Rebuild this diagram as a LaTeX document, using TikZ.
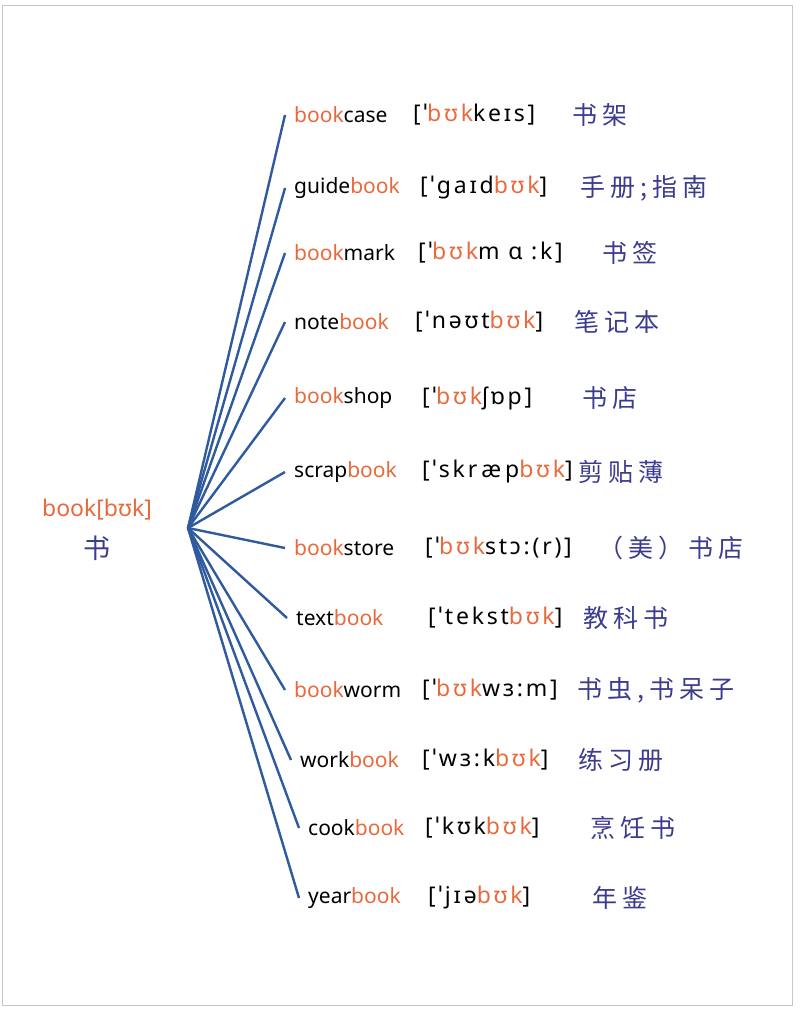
\documentclass[tikz,border=0pt]{standalone}
\usepackage{fontspec}
\setmainfont{Noto Sans}
\newfontfamily\ipafont[LetterSpace=12]{Noto Sans}
\newfontfamily\zhfont[LetterSpace=20]{Noto Sans CJK SC}
\definecolor{bookorange}{HTML}{E8693C}
\definecolor{spokeblue}{HTML}{2F5B9E}
\definecolor{zhblue}{HTML}{3B3B8F}
\newcommand{\bk}{\textcolor{bookorange}{book}}
\newcommand{\bu}{\textcolor{bookorange}{bʊk}}

\begin{document}
\begin{tikzpicture}[x=1pt, y=-1pt,
	word/.style={anchor=west, inner sep=0pt, font=\fontsize{21}{24}\selectfont},
	ipa/.style={anchor=west, inner sep=0pt, font=\ipafont\fontsize{23}{26}\selectfont},
	zh/.style={anchor=west, inner sep=0pt, text=zhblue, font=\zhfont\fontsize{25}{28}\selectfont},
	spoke/.style={spokeblue, line width=2.4pt}]
	
	% --- Frame ---
	\useasboundingbox (0,0) rectangle (800,1012);
	\draw[gray!45, line width=0.8pt] (2,5) rectangle (792,1005);
	
	% --- Hub ---
	\node[word, anchor=center, text=bookorange, font=\fontsize{23}{26}\selectfont] (root) at (97,510) {book[bʊk]};
	\node[zh, anchor=center, font=\zhfont\fontsize{27}{30}\selectfont] (rootzh) at (97,548) {书};
	\coordinate (hub) at (188,528);
	
	% --- Words: y / word x / word / ipa x / ipa / zh x / meaning ---
	\foreach \i/\y/\xw/\wrd/\xp/\ipa/\xc/\mean in {
		1/115/294/{\bk case}/413/{[ˈ\bu keɪs]}/572/{书架},
		2/188/294/{guide\bk}/420/{[ˈgaɪd\bu]}/580/{手册;指南},
		3/253/294/{\bk mark}/418/{[ˈ\bu m ɑ :k]}/602/{书签},
		4/322/294/{note\bk}/415/{[ˈnəʊt\bu]}/574/{笔记本},
		5/398/294/{\bk shop}/422/{[ˈ\bu ʃɒp]}/582/{书店},
		6/472/294/{scrap\bk}/422/{[ˈskr\hspace{4pt}æ\hspace{4pt}p\bu]}/578/{剪贴薄},
		7/548/294/{\bk store}/425/{[ˈ\bu stɔ:(r)]}/598/{（美）书店},
		8/618/296/{text\bk}/428/{[ˈtekst\bu]}/583/{教科书},
		9/690/294/{\bk worm}/422/{[ˈ\bu wɜ:m]}/577/{书虫,书呆子},
		10/760/300/{work\bk}/422/{[ˈwɜ:k\bu]}/578/{练习册},
		11/828/308/{cook\bk}/425/{[ˈkʊk\bu]}/590/{烹饪书},
		12/898/308/{year\bk}/428/{[ˈjɪə\bu]}/592/{年鉴}} {
		\node[word] (w\i) at (\xw,\y) {\wrd};
		\node[ipa] (p\i) at (\xp,\y) {\ipa};
		\node[zh] (c\i) at (\xc,\y) {\mean};
		\draw[spoke] (hub) -- ([xshift=-9pt]w\i.west);
	}
	
\end{tikzpicture}
\end{document}
